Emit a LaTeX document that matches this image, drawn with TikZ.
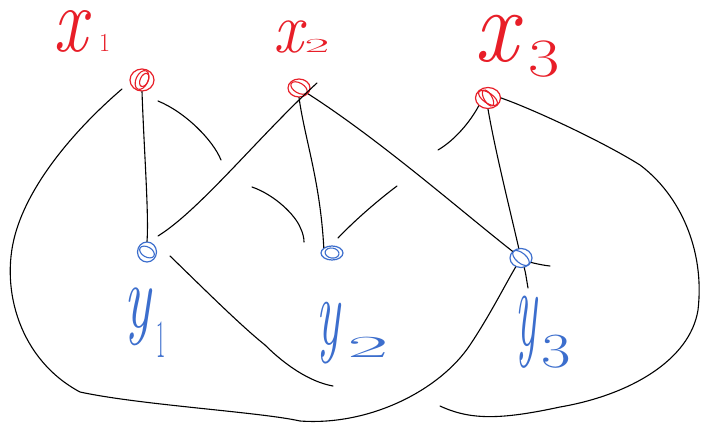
\documentclass[tikz,border=0pt]{standalone}
\usepackage{fontspec}
\usetikzlibrary{shapes.geometric}
\definecolor{pred}{RGB}{232,30,40}
\definecolor{pblue}{RGB}{60,110,205}
% #1 letter, #2/#3 its h/v scale, #4 digit, #5/#6 its h/v scale, #7 raise, #8 kern
\newcommand{\lab}[8]{\scalebox{#2}[#3]{\fontsize{60}{60}\selectfont\textit{#1}}\kern#8\raisebox{#7}{\scalebox{#5}[#6]{\fontsize{40}{40}\selectfont #4}}}
\begin{document}
\begin{tikzpicture}[x=1pt,y=-1pt,
  xn/.style={ellipse,draw=pred,line width=1.2pt,inner sep=0pt},
  yn/.style={ellipse,draw=pblue,line width=1.2pt,inner sep=0pt},
  xscr/.style={draw=pred,line width=1.1pt},
  yscr/.style={draw=pblue,line width=1.1pt},
  edge/.style={draw=black,line width=1.1pt,line cap=round},
  xl/.style={text=pred,inner sep=0pt,anchor=base west},
  yl/.style={text=pblue,inner sep=0pt,anchor=base west}]
\useasboundingbox (0,0) rectangle (702,425);
\fill[white] (0,0) rectangle (702,425);

% nodes
\node[xn,minimum width=24pt,minimum height=22pt] (x1) at (142,80) {};
\node[xn,minimum width=22pt,minimum height=18pt] (x2) at (299,88) {};
\node[xn,minimum width=25pt,minimum height=21pt] (x3) at (488,98) {};
\node[yn,minimum width=19pt,minimum height=20pt] (y1) at (147,252) {};
\node[yn,minimum width=22pt,minimum height=14pt] (y2) at (332,253) {};
\node[yn,minimum width=22pt,minimum height=19pt] (y3) at (521,258) {};

% scribble loops inside nodes
\draw[xscr,rotate around={-25:(x1)}] (x1) ellipse[x radius=6pt,y radius=10pt];
\draw[xscr,rotate around={-25:(x1)}] ([xshift=2pt,yshift=1pt]x1) ellipse[x radius=4pt,y radius=7pt];
\draw[xscr,rotate around={-30:(x2)}] (x2) ellipse[x radius=9pt,y radius=5pt];
\draw[xscr,rotate around={-35:(x3)}] (x3) ellipse[x radius=11pt,y radius=5pt];
\draw[xscr,rotate around={-60:(x3)}] (x3) ellipse[x radius=9pt,y radius=4pt];
\draw[yscr,rotate around={-30:(y1)}] (y1) ellipse[x radius=8pt,y radius=5pt];
\draw[yscr,rotate around={-10:(y2)}] (y2) ellipse[x radius=7pt,y radius=5pt];
\draw[yscr,rotate around={-40:(y3)}] (y3) ellipse[x radius=10pt,y radius=5pt];

% labels
\node[xl] (lx1) at (53,52) {\lab{x}{1.25}{1.55}{1}{0.6}{0.65}{0pt}{8pt}};
\node[xl] (lx2) at (273,53) {\lab{x}{1.1}{1.2}{2}{1.35}{0.5}{0pt}{-2pt}};
\node[xl] (lx3) at (474,62) {\lab{x}{1.6}{1.75}{3}{1.7}{1.35}{-15pt}{6pt}};
\node[yl] (ly1) at (124,327) {\lab{y}{0.93}{1.5}{1}{0.5}{1.35}{-30pt}{4pt}};
\node[yl] (ly2) at (316,344) {\lab{y}{0.83}{1.6}{2}{2.25}{0.77}{-13pt}{6pt}};
\node[yl] (ly3) at (515,345) {\lab{y}{0.76}{1.87}{3}{1.6}{1.23}{-22pt}{3pt}};

% free ends
\coordinate (a0) at (122,89);
\coordinate (c0) at (158,101);
\coordinate (c1) at (221,160);
\coordinate (d0) at (158,236);
\coordinate (d1) at (317,83);
\coordinate (f1) at (550,266);
\coordinate (g1) at (438,150);
\coordinate (h1) at (528,288);
\coordinate (i1) at (440,406);
\coordinate (j0) at (170,256);
\coordinate (j1) at (333,386);
\coordinate (k0) at (252,187);
\coordinate (k1) at (304,242);
\coordinate (l0) at (397,186);
\coordinate (l1) at (338,238);

% big curve x1 -> around left/bottom -> y3
\draw[edge] (a0) .. controls (80,125) and (30,180) .. (15,235)
  .. controls (0,290) and (20,360) .. (80,392)
  .. controls (140,405) and (260,412) .. (300,421)
  .. controls (370,426) and (440,390) .. (470,345)
  .. controls (490,315) and (505,285) .. (y3);
% x1 - y1
\draw[edge] (x1.south) .. controls (144,150) and (149,215) .. (y1.north);
% short stroke right of x1
\draw[edge] (c0) .. controls (185,112) and (213,140) .. (c1);
% y1 - x2
\draw[edge] (d0) .. controls (200,210) and (260,135) .. (d1);
% x2 - y2
\draw[edge] (x2.south) .. controls (305,140) and (320,180) .. (y2.north west);
% x2 - y3 and beyond
\draw[edge] (x2) .. controls (380,140) and (460,210) .. (y3)
  .. controls (530,262) and (540,265) .. (f1);
% x3 short left stroke
\draw[edge] (x3.south west) .. controls (470,122) and (455,140) .. (g1);
% x3 - y3
\draw[edge] (x3.south) .. controls (495,150) and (510,210) .. (y3)
  .. controls (525,270) .. (h1);
% x3 big right curve
\draw[edge] (x3.east) .. controls (530,108) and (600,140) .. (640,165)
  .. controls (680,195) and (705,250) .. (698,310)
  .. controls (690,360) and (630,395) .. (560,407)
  .. controls (500,420) and (470,420) .. (i1);
% y1 long stroke to bottom
\draw[edge] (j0) .. controls (200,285) and (240,325) .. (265,345)
  .. controls (285,365) and (310,382) .. (j1);
% short strokes near y2
\draw[edge] (k0) .. controls (275,195) and (295,215) .. (300,227)
  .. controls (303,233) and (304,238) .. (k1);
\draw[edge] (l0) .. controls (385,195) and (360,215) .. (l1);
\end{tikzpicture}
\end{document}
